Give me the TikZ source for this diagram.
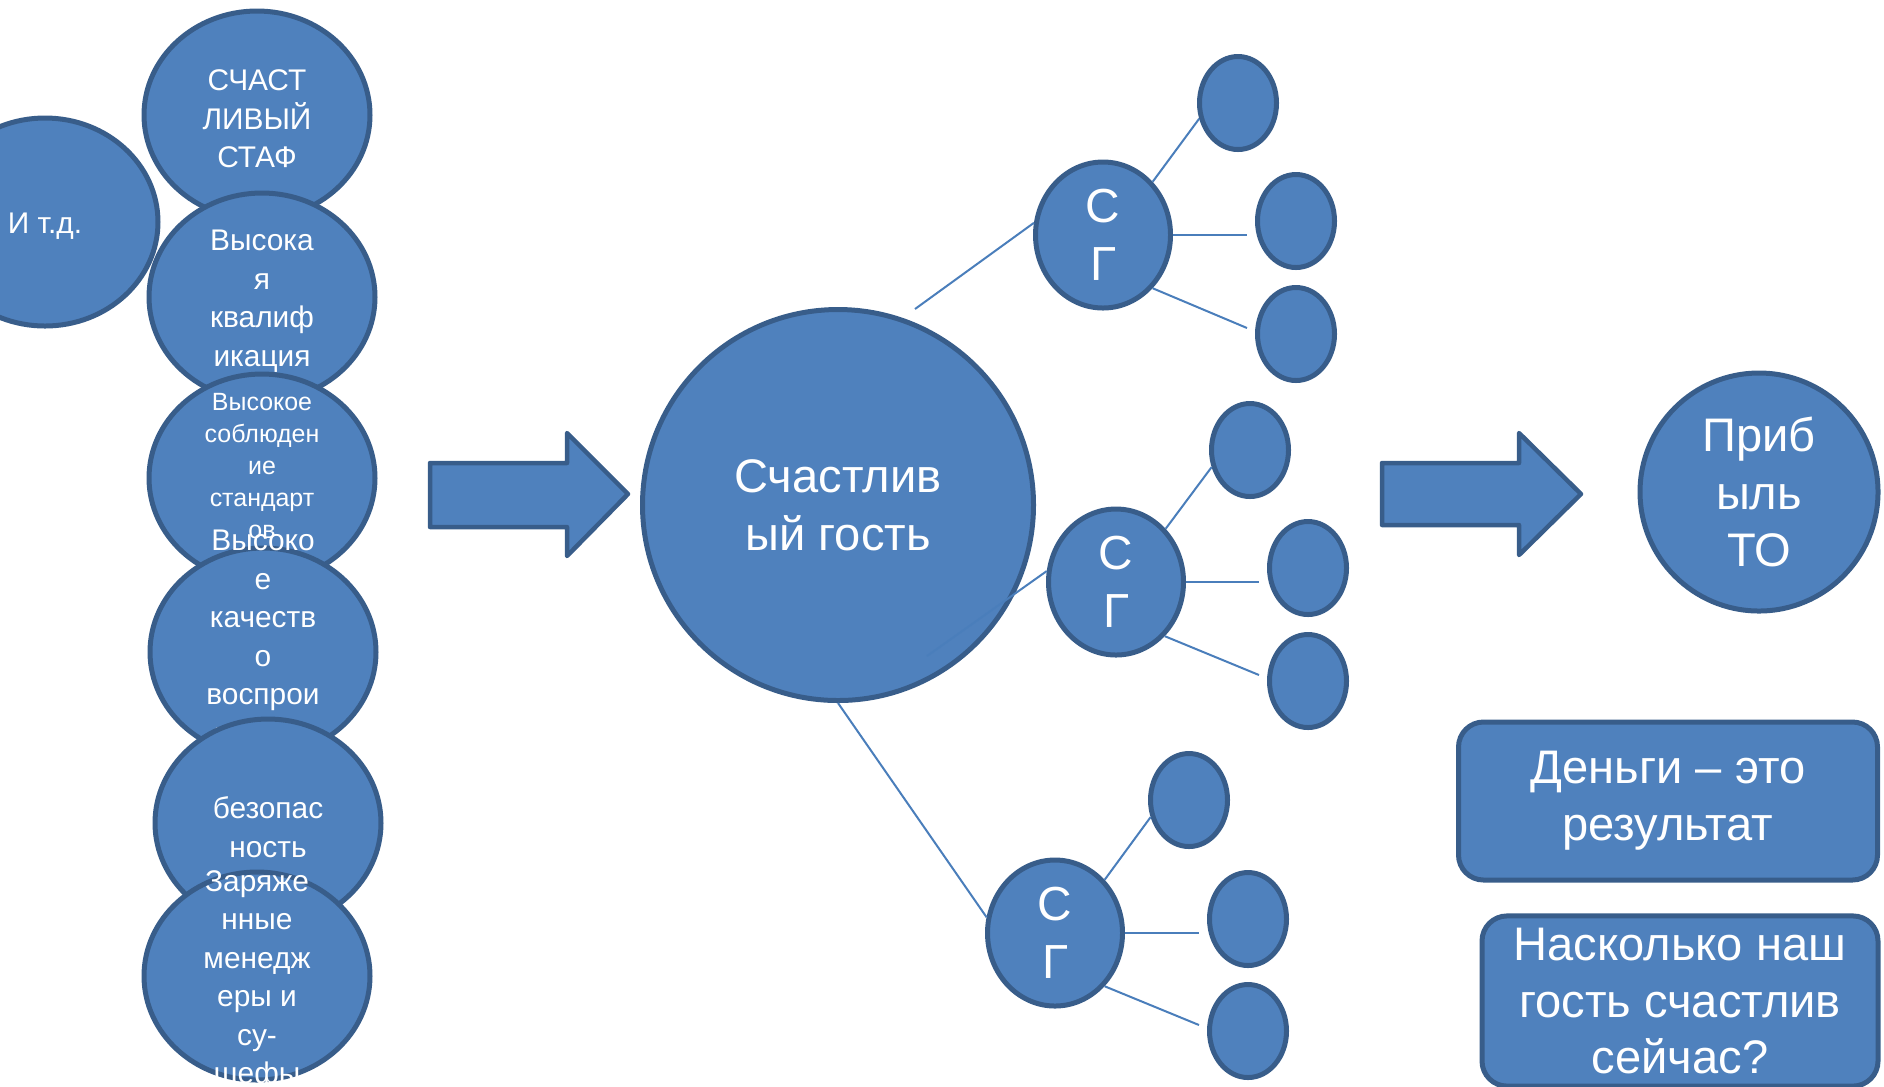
\documentclass[tikz,border=0pt]{standalone}
\usepackage{fontspec}
\setmainfont{Liberation Sans}
\usepackage{tikz}
\usetikzlibrary{shapes,arrows, positioning}
\definecolor{ofblue}{HTML}{4F81BD}
\definecolor{ofdark}{HTML}{385D8A}
\definecolor{ofline}{HTML}{4A7EBB}
\tikzstyle{bubble} = [ellipse, draw=ofdark, fill=ofblue, line width=0.5mm, inner sep=0pt, text=white, align=center]
\tikzstyle{lnode} = [bubble, minimum width=22.6mm, minimum height=20.8mm]
\tikzstyle{sgnode} = [bubble, minimum width=13.5mm, minimum height=14.6mm, font=\fontsize{13.6}{16.5}\selectfont]
\tikzstyle{snode} = [bubble, minimum width=7.7mm, minimum height=9.3mm]
\tikzstyle{tbox} = [rectangle, rounded corners=2.5mm, draw=ofdark, fill=ofblue, line width=0.5mm, text=white, align=center, font=\fontsize{13.4}{16.2}\selectfont]
\tikzstyle{bigarrow} = [draw=ofdark, fill=ofblue, line width=0.45mm, line join=round]
\tikzstyle{line} = [draw=ofline, line width=0.2mm]
\tikzstyle{ltext} = [text=white, align=center, yshift=-0.4mm, font=\fontsize{8.5}{10.95}\selectfont]
\tikzstyle{stext} = [text=white, align=center, font=\fontsize{7.1}{9.1}\selectfont]

\begin{document}
\begin{tikzpicture}[x=0.1mm, y=-0.1mm]
			\clip (0,0) rectangle (1884,1086);
			
			\node [lnode, label={[ltext]center:{И т.д.}}] (etc) at (45,222) {};
			\node [lnode, label={[ltext]center:{СЧАСТ\\ЛИВЫЙ\\СТАФ}}] (staff) at (257,115) {};
			\node [lnode, label={[ltext]center:{Высока\\я\\квалиф\\икация}}] (qual) at (262,297) {};
			\node [lnode, label={[stext, yshift=1.2mm]center:{Высокое\\соблюден\\ие\\стандарт\\ов}}] (std) at (262,478) {};
			\node [lnode, label={[ltext]center:{Высоко\\е\\качеств\\о\\воспрои\\зводим\\ости}}] (quality) at (263,652) {};
			\node [lnode, label={[ltext]center:{безопас\\ность}}] (safe) at (268,823) {};
			\node [lnode, label={[ltext]center:{Заряже\\нные\\менедж\\еры и\\су-\\шефы}}] (chefs) at (257,976) {};
			
			\path [bigarrow] (430,463) -- (567,463) -- (567,433) -- (628,494) -- (567,556) -- (567,527) -- (430,527) -- cycle;
			\path [bigarrow] (1382,463) -- (1519,463) -- (1519,433) -- (1581,494) -- (1519,555) -- (1519,525) -- (1382,525) -- cycle;
			
			\node [bubble, minimum size=39.1mm, font=\fontsize{13.4}{16.5}\selectfont] (guest) at (838,505) {Счастлив\\ый гость};
			\node [bubble, minimum size=23.8mm, font=\fontsize{13.4}{16.4}\selectfont] (profit) at (1759,492) {Приб\\ыль\\ТО};
			
			\node [sgnode] (sg1) at (1103,235) {С\\Г};
			\node [sgnode] (sg2) at (1116,582) {С\\Г};
			\node [sgnode] (sg3) at (1055,933) {С\\Г};
			
			\node [snode] (s11) at (1238,103) {};
			\node [snode] (s12) at (1296,221) {};
			\node [snode] (s13) at (1296,334) {};
			\node [snode] (s21) at (1250,450) {};
			\node [snode] (s22) at (1308,568) {};
			\node [snode] (s23) at (1308,681) {};
			\node [snode] (s31) at (1189,800) {};
			\node [snode] (s32) at (1248,919) {};
			\node [snode] (s33) at (1248,1031) {};
			
			\node [tbox, minimum width=41.9mm, minimum height=15.8mm] (money) at (1668,801) {Деньги – это\\результат};
			\node [tbox, minimum width=39.6mm, minimum height=16mm] (now) at (1680,1001) {Насколько наш\\гость счастлив\\сейчас?};
			
			\coordinate (g1) at (915,309);
			\coordinate (g2) at (927,656);
			\coordinate (e12) at (1247,235);
			\coordinate (e13) at (1247,328);
			\coordinate (e22) at (1259,582);
			\coordinate (e23) at (1259,675);
			\coordinate (e32) at (1199,933);
			\coordinate (e33) at (1199,1025);
			
			\path [line] (g1) -- (sg1.170);
			\path [line] (g2) -- (sg2.171);
			\path [line] (guest.south) -- (sg3.167);
			\path [line] (sg1.47) -- (s11.202);
			\path [line] (sg1.east) -- (e12);
			\path [line] (sg1.313) -- (e13);
			\path [line] (sg2.47) -- (s21.204);
			\path [line] (sg2.east) -- (e22);
			\path [line] (sg2.312) -- (e23);
			\path [line] (sg3.47) -- (s31.204);
			\path [line] (sg3.east) -- (e32);
			\path [line] (sg3.313) -- (e33);
		\end{tikzpicture}
\end{document}
